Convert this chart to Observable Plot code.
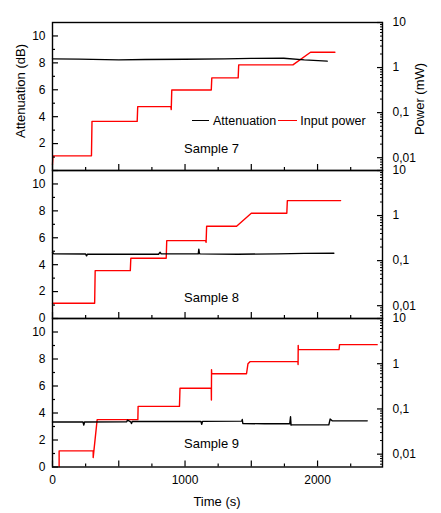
<!DOCTYPE html>
<html><head><meta charset="utf-8">
<script src="https://cdn.jsdelivr.net/npm/d3@7"></script>
<script src="https://cdn.jsdelivr.net/npm/@observablehq/plot@0.6"></script>
<style>
body{margin:0;background:#fff}
#chart{position:relative;width:441px;height:513px;font-family:"Liberation Sans",Arial,sans-serif;color:#000;overflow:hidden}
#chart svg{position:absolute;left:0;top:0;background:transparent !important}
.lab{position:absolute;font-size:13px;white-space:nowrap;line-height:1}
</style>
</head><body><div id="chart"></div>
<script>
// ---- data ----
const sampleNames = ["Sample 7", "Sample 8", "Sample 9"];

const s7PowTime = [0, 4, 294, 298, 639, 643, 893, 896, 900, 1198, 1202, 1401, 1405, 1814, 1947, 2131];
const s7Pow     = [0.0072, 0.011, 0.011, 0.064, 0.064, 0.136, 0.136, 0.117, 0.319, 0.319, 0.59, 0.59, 1.15, 1.15, 2.19, 2.19];
const s7AttTime = [0, 200, 400, 500, 700, 1000, 1300, 1500, 1745, 1900, 2073];
const s7Att     = [8.30, 8.28, 8.24, 8.22, 8.25, 8.27, 8.30, 8.33, 8.34, 8.22, 8.13];

const s8PowTime = [0, 318, 322, 587, 591, 858, 862, 1155, 1159, 1163, 1389, 1500, 1768, 1772, 2174];
const s8Pow     = [0.0113, 0.0113, 0.06, 0.06, 0.113, 0.113, 0.278, 0.278, 0.255, 0.58, 0.58, 1.13, 1.13, 2.15, 2.15];
const s8AttTime = [0, 10, 250, 257, 264, 500, 800, 812, 820, 1100, 1104, 1108, 1112, 1400, 1700, 1900, 2123];
const s8Att     = [4.92, 4.80, 4.79, 4.66, 4.78, 4.77, 4.78, 4.92, 4.80, 4.80, 5.15, 4.86, 4.80, 4.78, 4.80, 4.84, 4.85];

const s9PowTime = [50, 50, 307, 307, 337, 644, 646, 958, 962, 1198, 1199, 1200, 1201, 1464, 1475, 1490, 1852, 1853, 1854, 1855, 2162, 2166, 2450];
const s9Pow     = [0.0053, 0.0118, 0.0118, 0.0084, 0.058, 0.058, 0.114, 0.114, 0.287, 0.287, 0.158, 0.736, 0.6, 0.6, 1.0, 1.11, 1.11, 0.96, 2.55, 2.05, 2.05, 2.64, 2.64];
const s9AttTime = [0, 230, 236, 242, 560, 566, 590, 596, 602, 1120, 1126, 1132, 1428, 1432, 1436, 1600, 1790, 1796, 1800, 1806, 2085, 2095, 2110, 2375];
const s9Att     = [3.33, 3.33, 3.10, 3.33, 3.35, 3.47, 3.35, 3.22, 3.37, 3.37, 3.17, 3.38, 3.40, 3.52, 3.22, 3.20, 3.20, 3.72, 3.10, 3.12, 3.12, 3.55, 3.42, 3.42];

const attTicks = [0, 2, 4, 6, 8, 10];
const attMinorTicks = [1, 3, 5, 7, 9];
const timeTicks = [0, 500, 1000, 1500, 2000];
const timeMinorTicks = [250, 750, 1250, 1750, 2250];
const timeLabels = [0, 1000, 2000];
const powTicks = [0.01, 0.1, 1, 10];
const powMinorTicks = [0.006,0.007,0.008,0.009,0.02,0.03,0.04,0.05,0.06,0.07,0.08,0.09,0.2,0.3,0.4,0.5,0.6,0.7,0.8,0.9,2,3,4,5,6,7,8,9];

// ---- build ----
const W = 441, H = 513;
const ML = 52, MR = 59;
const panelTop = [22, 170, 318];
const panelBottom = [170, 318, 466.5];
const sampleDy = [-17.5, -16.5, -19.5];
const series = [
  {pt: s7PowTime, p: s7Pow, at: s7AttTime, a: s7Att},
  {pt: s8PowTime, p: s8Pow, at: s8AttTime, a: s8Att},
  {pt: s9PowTime, p: s9Pow, at: s9AttTime, a: s9Att}
];
const fmt = d => String(d).replace(".", ",");
const chart = document.getElementById("chart");
const font = '"Liberation Sans", Arial, sans-serif';

series.forEach((s, i) => {
  const common = {
    width: W, height: H,
    marginTop: panelTop[i], marginBottom: H - panelBottom[i],
    marginLeft: ML, marginRight: MR,
    style: {background: "transparent", fontFamily: font, fontSize: "12px", color: "#000"},
    x: {domain: [0, 2490]}
  };
  const attData = s.at.map((t, k) => ({t, v: s.a[k]}));
  const powData = s.pt.map((t, k) => ({t, v: s.p[k]}));

  const plotA = Plot.plot({
    ...common,
    y: {domain: [0, 11]},
    marks: [
      Plot.line(attData, {x: "t", y: "v", stroke: "black", strokeWidth: 1.4}),
      Plot.axisY(attTicks, {anchor: "left", tickSize: 0, tickPadding: 7, label: null, fontSize: 12}),
      Plot.axisY(attTicks, {anchor: "left", tickSize: 6, dx: 6, fill: "none", label: null, strokeWidth: 1.2}),
      Plot.axisY(attMinorTicks, {anchor: "left", tickSize: 3, dx: 3, fill: "none", label: null, strokeWidth: 1.2}),
      Plot.axisX(timeTicks, {anchor: "bottom", tickSize: 6, dy: -6, fill: "none", label: null, strokeWidth: 1.2}),
      Plot.axisX(timeMinorTicks, {anchor: "bottom", tickSize: 3, dy: -3, fill: "none", label: null, strokeWidth: 1.2}),
      i === 2 ? Plot.axisX(timeLabels, {anchor: "bottom", tickSize: 0, tickPadding: 8, tickFormat: d => String(d), label: null, fontSize: 12}) : null,
      Plot.text([sampleNames[i]], {frameAnchor: "bottom", dx: -6, dy: sampleDy[i], fontSize: 13, text: d => d}),
      Plot.frame({stroke: "black", strokeWidth: 1.4})
    ]
  });
  const plotB = Plot.plot({
    ...common,
    x: {domain: [0, 2490], axis: null},
    y: {type: "log", domain: [0.0052, 10]},
    marks: [
      Plot.line(powData, {x: "t", y: "v", stroke: "#ff0000", strokeWidth: 1.4}),
      Plot.axisY(powTicks, {anchor: "right", tickSize: 0, tickPadding: 10, tickFormat: fmt, label: null, fontSize: 12}),
      Plot.axisY(powTicks, {anchor: "right", tickSize: 6, dx: -6, fill: "none", label: null, strokeWidth: 1.2}),
      Plot.axisY(powMinorTicks, {anchor: "right", tickSize: 3, dx: -3, fill: "none", label: null, strokeWidth: 1})
    ]
  });
  chart.appendChild(plotB);
  chart.appendChild(plotA);
});

function addLabel(text, css) {
  const d = document.createElement("div");
  d.className = "lab";
  d.textContent = text;
  Object.assign(d.style, css);
  chart.appendChild(d);
  return d;
}
addLabel("Attenuation (dB)", {left: "20px", top: "91px", transform: "translate(-50%,-50%) rotate(-90deg)"});
addLabel("Power (mW)", {left: "419px", top: "99px", transform: "translate(-50%,-50%) rotate(-90deg)"});
addLabel("Time (s)", {left: "217px", top: "501px", transform: "translate(-50%,-50%)"});

// legend
const legend = document.createElement("div");
Object.assign(legend.style, {position: "absolute", left: "192px", top: "113px", height: "15px", display: "flex", alignItems: "center", fontSize: "12.5px", whiteSpace: "nowrap"});
legend.innerHTML =
  '<span style="display:inline-block;width:17px;border-top:1.5px solid #000;margin-right:4px"></span><span>Attenuation</span>' +
  '<span style="display:inline-block;width:19px;border-top:1.5px solid #f00;margin:0 3px 0 2px"></span><span>Input power</span>';
chart.appendChild(legend);
</script>
</body></html>
